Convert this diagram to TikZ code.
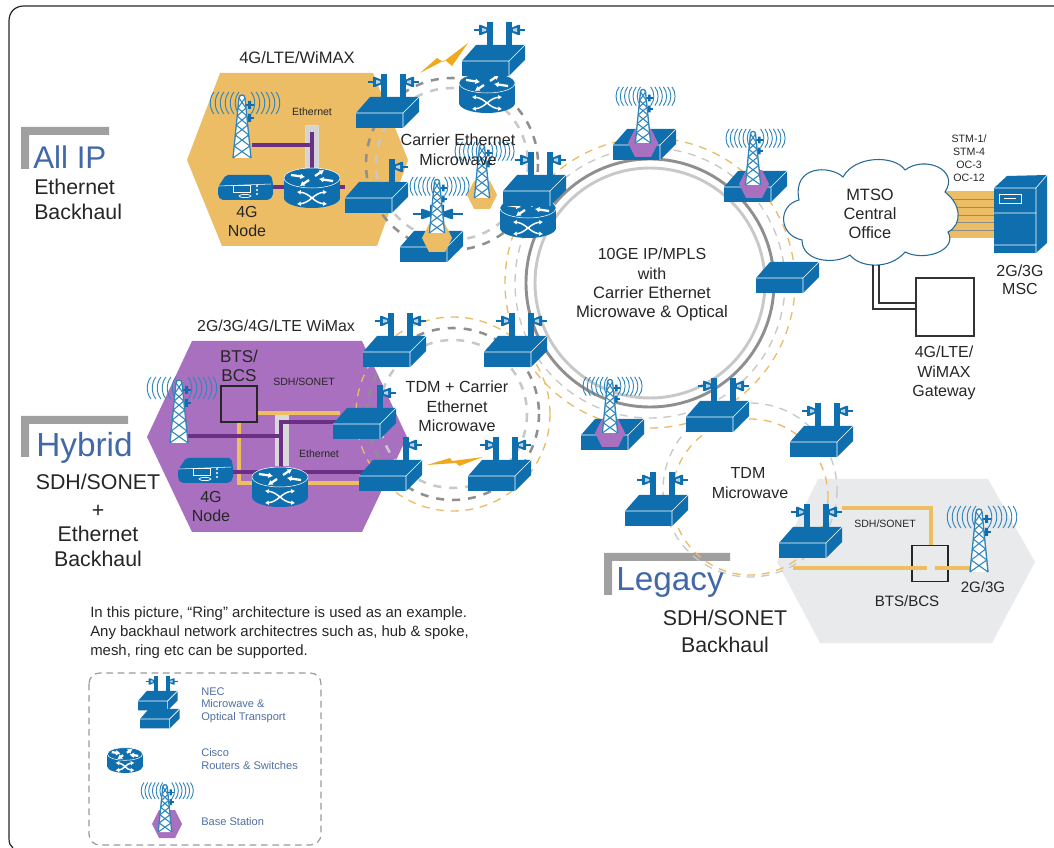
\documentclass[tikz,border=0pt]{standalone}
\usepackage{fontspec}
\setmainfont{Liberation Sans}
\usetikzlibrary{arrows.meta}
\definecolor{cblue}{HTML}{0F6FAE}
\definecolor{wblue}{HTML}{2F86BC}
\definecolor{hexor}{HTML}{EDBD66}
\definecolor{hexpu}{HTML}{A970BF}
\definecolor{hexgr}{HTML}{E9EAEC}
\definecolor{lnpu}{HTML}{6B2F85}
\definecolor{lnor}{HTML}{F0BE62}
\definecolor{dashor}{HTML}{E9BC68}
\definecolor{ringd}{HTML}{8F8F8F}
\definecolor{ringl}{HTML}{C8C8C8}
\definecolor{titleb}{HTML}{4168A8}
\definecolor{legb}{HTML}{4E6FA3}
\definecolor{brk}{HTML}{A0A0A0}
\definecolor{bolt}{HTML}{F0A91E}
\newcommand{\fsz}[1]{\fontsize{#1}{#1}\selectfont}
\newcommand{\drawbox}{%
  \fill[cblue] (0,0)--(14,-16)--(63,-16)--(63,-1)--(47,15)--(0,15)--cycle;
  \draw[white,line width=.45pt] (0,0)--(47,0)--(63,-16) (47,0)--(47,15);
}
\newcommand{\drawantl}{%
  \fill[cblue] (25,-39) rectangle (31,-8);
  \draw[cblue,line width=1.4pt] (12,-31)--(25,-31);
  \fill[cblue] (17,-36)--(19,-36)--(25,-33.5)--(25,-28.5)--(19,-26)--(17,-26)--cycle;
  \fill[white!70!cblue] (20,-33)--(24,-32)--(24,-30)--(20,-29)--cycle;
}
\newcommand{\drawantr}{%
  \fill[cblue] (44,-39) rectangle (50,-8);
  \draw[cblue,line width=1.4pt] (50,-31)--(63,-31);
  \fill[cblue] (58,-36)--(56,-36)--(50,-33.5)--(50,-28.5)--(56,-26)--(58,-26)--cycle;
  \fill[white!70!cblue] (55,-33)--(51,-32)--(51,-30)--(55,-29)--cycle;
}
\tikzset{
 lb/.style={inner sep=0pt,anchor=base,yshift={-.36*#1pt},text=black!85,font=\fsz{#1}},
 ll/.style={inner sep=0pt,anchor=base west,yshift={-.36*#1pt},text=black!85,font=\fsz{#1}},
 leg/.style={inner sep=0pt,anchor=base west,yshift=-3pt,text=legb,font=\fsz{8.3}},
 ttl/.style={inner sep=0pt,anchor=base west,yshift={-.36*#1pt},text=titleb,font=\fsz{#1}},
 lnp/.style={draw=lnpu,line width=2.6pt},
 lno/.style={draw=lnor,line width=2.6pt},
 mwbox/.pic={\drawbox},
 mwtwo/.pic={\drawantl\drawantr\drawbox},
 mwone/.pic={\drawantr\drawbox},
 rtr/.pic={
  \fill[cblue] (0,20) ellipse[x radius=28,y radius=10];
  \fill[cblue] (-28,0) rectangle (28,20);
  \fill[cblue] (0,0) ellipse[x radius=28,y radius=10];
  \draw[white,line width=.4pt] (0,0) ellipse[x radius=28,y radius=10];
  \draw[white,line width=1.7pt,-{Latex[length=3.4pt,width=4.4pt]}] (-21,-3)--(-7,-1);
  \draw[white,line width=1.7pt,-{Latex[length=3.4pt,width=4.4pt]}] (21,3)--(7,1);
  \draw[white,line width=1.7pt,-{Latex[length=3.4pt,width=4.4pt]}] (3,-2)--(12,-8);
  \draw[white,line width=1.7pt,-{Latex[length=3.4pt,width=4.4pt]}] (-3,2)--(-12,8);
  \draw[white,line width=1.1pt,{Latex[length=2.8pt,width=3.6pt]}-{Latex[length=2.8pt,width=3.6pt]}] (-15,14) .. controls (-2,15) and (2,25) .. (15,26);
  \draw[white,line width=1.1pt,{Latex[length=2.8pt,width=3.6pt]}-{Latex[length=2.8pt,width=3.6pt]}] (-15,26) .. controls (-2,25) and (2,15) .. (15,14);
 },
 twr/.pic={
  \foreach \r in {7,12,17,22,27,32} {
   \draw[wblue,line width=.7pt] (-\r+4,-66) .. controls (-\r-1,-60) and (-\r-1,-50) .. (-\r+4,-44);
  }
  \foreach \r in {13,18,23,28,33,38} {
   \draw[wblue,line width=.7pt] (\r-4,-66) .. controls (\r+1,-60) and (\r+1,-50) .. (\r-4,-44);
  }
  \draw[cblue,line width=1.1pt] (3,-53)--(12,-53) (3,-40)--(12,-40);
  \fill[cblue] (6,-57) rectangle (9,-49) (6,-44) rectangle (9,-36);
  \fill[white] (-9,0)--(-3,-60)--(0,-63)--(3,-60)--(9,0)--cycle;
  \foreach \a/\wa/\b/\wb in {0/9/-12/7.8,-12/7.8/-23/6.7,-23/6.7/-33/5.7,-33/5.7/-42/4.8,-42/4.8/-50/4,-50/4/-60/3} {
   \draw[wblue,line width=.8pt] (-\wa,\a)--(\wb,\b) (\wa,\a)--(-\wb,\b);
  }
  \draw[wblue,line width=1pt] (-9,0)--(-3,-60) .. controls (-3,-64) and (3,-64) .. (3,-60)--(9,0);
 },
 hexs/.pic={
  \fill[pic actions] (-15,0)--(-8,-14)--(8,-14)--(15,0)--(8,14)--(-8,14)--cycle;
 },
 node4g/.pic={
  \fill[cblue,rounded corners=1.5pt] (0,12)--(8,0)--(53,0)--(55,8)--(55,21)--(51,25)--(3,25)--(0,21)--cycle;
  \draw[white,line width=.4pt] (1,11)--(53,9);
  \draw[white,line width=.5pt] (15,10) rectangle (32,17);
  \draw[white,line width=.5pt] (27,21) ellipse[x radius=6,y radius=1.6];
  \fill[white] (39,11) circle[radius=1.2] (39,15) circle[radius=1.2] (39,19) circle[radius=1.2];
 }
}
\begin{document}
\begin{tikzpicture}[x=.75pt,y=-.75pt,line cap=butt]
\useasboundingbox (0,0) rectangle (1054,848);
% frame
\coordinate (fa) at (1054,6); \coordinate (fb) at (9,6); \coordinate (fc) at (9,838); \coordinate (fd) at (13,848);
\draw[black!85,line width=.9pt] (fa)--(24,6) .. controls (15,6) and (9,12) .. (9,21)--(fc) .. controls (9,843) and (10,846) .. (fd);
% hexagons
\fill[hexor] (187,160)--(220,73)--(373,73)--(408,160)--(377,246)--(222,246)--cycle;
\fill[hexpu] (147,437)--(192,341)--(362,341)--(407,437)--(362,532)--(192,532)--cycle;
\fill[hexgr] (777,562)--(818,479)--(988,479)--(1035,562)--(992,643)--(820,643)--cycle;
% brackets
\fill[brk] (21,127)--(109,127)--(109,135)--(29,135)--(29,169)--(21,169)--cycle;
\fill[brk] (21,416)--(128,416)--(128,424)--(29,424)--(29,457)--(21,457)--cycle;
\fill[brk] (604,553)--(730,553)--(730,561)--(612,561)--(612,595)--(604,595)--cycle;
% ring centres
\coordinate (cmain) at (650,283);
\coordinate (ccar) at (452,164);
\coordinate (chyb) at (453,414);
\coordinate (ctdmg) at (750,490);
\coordinate (ctdmo) at (750,497);
% dashed rings
\draw[dashor,line width=1pt,dash pattern=on 6pt off 5pt] (cmain) circle[radius=145];
\draw[ringl,line width=1pt,dash pattern=on 6pt off 5pt] (cmain) circle[radius=135];
\draw[ringd,line width=1.9pt,dash pattern=on 6pt off 6pt] (ccar) circle[radius=86];
\draw[ringl,line width=1.9pt,dash pattern=on 6pt off 6pt] (ccar) circle[radius=76];
\draw[dashor,line width=1pt,dash pattern=on 6pt off 5pt] (chyb) circle[radius=97];
\draw[ringd,line width=1.9pt,dash pattern=on 6pt off 6pt] (chyb) circle[radius=86];
\draw[ringl,line width=1.9pt,dash pattern=on 6pt off 6pt] (chyb) circle[radius=74];
\draw[ringl,line width=1pt,dash pattern=on 6pt off 5pt] (ctdmg) circle[radius=87];
\draw[dashor,line width=1pt,dash pattern=on 6pt off 5pt] (ctdmo) circle[radius=78];
% main rings
\draw[ringd,line width=2.2pt] (cmain) circle[radius=124];
\draw[ringl,line width=2.2pt] (cmain) circle[radius=115];
% stripes + MSC
\fill[hexor] (940,191) rectangle (996,238);
\foreach \y in {199,207,215,222,230} \draw[black!45,line width=.6pt] (940,\y)--(996,\y);
% cloud
\draw[wblue!80!black,line width=.8pt,fill=white] (799,200)
 .. controls (792,165) and (830,165) .. (843,177)
 .. controls (855,155) and (895,155) .. (905,170)
 .. controls (925,155) and (960,170) .. (945,192)
 .. controls (962,205) and (962,225) .. (948,232)
 .. controls (958,250) and (925,262) .. (905,252)
 .. controls (890,270) and (860,268) .. (850,255)
 .. controls (835,265) and (802,262) .. (802,240)
 .. controls (778,235) and (778,205) .. (799,200) -- cycle;
% server
\fill[cblue] (994,188)--(1007,176)--(1047,175)--(1047,243)--(1036,253)--(994,253)--cycle;
\draw[white,line width=.45pt] (994,188)--(1036,188)--(1047,175) (1036,188)--(1036,253) (994,213)--(1036,213) (994,245)--(1036,245);
\draw[white,line width=.6pt] (999,194) rectangle (1021,203);
\draw[white,line width=.8pt] (1004,198.5)--(1016,198.5);
% gateway
\node[draw=black!80,line width=.9pt,minimum width=43.5pt,minimum height=43.5pt,inner sep=0pt] (gw) at (945,307) {};
\coordinate (cla) at (873,265); \coordinate (clb) at (879,265);
\coordinate (gwa) at (916,309); \coordinate (gwb) at (916,303);
\draw[black!80,line width=.9pt] (cla)--(cla|-gwa)--(gwa);
\draw[black!80,line width=.9pt] (clb)--(clb|-gwb)--(gwb);
% hex lines: orange block
\node[fill=black!17,draw=white!85!black,line width=.5pt,minimum width=10pt,minimum height=32pt,inner sep=0pt] (ethA) at (312,146.5) {};
\coordinate (twA) at (252,145); \coordinate (rtA) at (312,178); \coordinate (ethAt) at (312,132);
\coordinate (n4A) at (268,187); \coordinate (rtAr) at (345,187); \coordinate (rtAl) at (290,187);
\draw[lnp] (twA)--(ethAt|-twA);
\draw[lnp] (ethAt)--(rtA);
\draw[lnp] (n4A)--(rtAl);
\draw[lnp] (rtAl)--(rtAr);
% hex lines: purple block
\node[fill=black!15,draw=white!85!black,line width=.5pt,minimum width=10pt,minimum height=38pt,inner sep=0pt] (ethB) at (281.5,440) {};
\node[draw=black!85,line width=.9pt,minimum width=27pt,minimum height=27pt,inner sep=0pt] (btsB) at (239,404) {};
\coordinate (boxL) at (340,413); \coordinate (boxLp) at (340,422);
\coordinate (twB) at (188,436); \coordinate (ethBb) at (281,470);
\coordinate (rtBo) at (340,483); \coordinate (rtBp) at (365,472); \coordinate (n4B) at (228,472);
\draw[lno] (btsB.east|-boxL)--(boxL);
\draw[lno] (btsB.south)--(btsB.south|-rtBo)--(rtBo);
\draw[lno] (rtBo)--(365,483);
\draw[lnp] (twB)--(ethBb|-twB);
\draw[lnp] (ethBb)--(ethBb|-boxLp)--(boxLp);
\draw[lnp] (n4B)--(rtBp);
% hex lines: grey block
\node[draw=black!85,line width=.9pt,minimum width=27pt,minimum height=27pt,inner sep=0pt] (btsC) at (930,563.5) {};
\coordinate (boxS) at (842,508); \coordinate (boxSl) at (793,568); \coordinate (twC) at (970,568);
\coordinate (gapa) at (927,568); \coordinate (gapb) at (935,568);
\draw[lno] (boxS)--(931,508)--(931,545);
\draw[lno] (boxSl)--(gapa);
\draw[lno] (gapb)--(twC);
% bolts
\fill[bolt] (420,73)--(437,58)--(443,62)--(468,43)--(452,66)--(445,60)--cycle;
\fill[bolt] (427,465)--(450,458)--(452,461)--(483,457)--(459,466)--(456,463)--cycle;
% towers on hexagons
\pic at (242,158) {twr};
\pic at (179,443) {twr};
\pic at (979,572) {twr};
% routers and 4G nodes
\pic at (312,178) {rtr};
\pic at (280,477) {rtr};
\pic at (218,175) {node4g};
\pic at (178,458) {node4g};
% microwave units: carrier ring
\pic at (356,113) {mwtwo};
\pic at (487,83) {rtr};
\pic at (462,61) {mwtwo};
\pic at (345,198) {mwone};
\pic[fill=hexor] at (482,195) {hexs};
\pic[scale=.85] at (482,198) {twr};
\pic at (400,247) {mwbox};
\fill[cblue] (430,205) rectangle (433,232) (441,205) rectangle (444,232);
\draw[cblue,line width=1.4pt] (413,214)--(430,214) (444,214)--(463,214);
\fill[cblue] (421,209)--(423,209)--(430,211.5)--(430,216.5)--(423,219)--(421,219)--cycle;
\fill[cblue] (453,209)--(451,209)--(444,211.5)--(444,216.5)--(451,219)--(453,219)--cycle;
\pic[fill=hexor] at (437,238) {hexs};
\pic[scale=.85] at (437,233) {twr};
\pic at (528,208) {rtr};
\pic at (503,191) {mwtwo};
% main ring
\pic at (613,145) {mwbox};
\pic[fill=hexpu] at (643,143) {hexs};
\pic[scale=.85] at (643,143) {twr};
\pic at (724,187) {mwbox};
\pic[fill=hexpu] at (754,184) {hexs};
\pic[scale=.85] at (753,185) {twr};
\pic at (756,278) {mwbox};
\pic at (581,435) {mwbox};
\pic[fill=hexpu] at (610,433) {hexs};
\pic[scale=.85] at (610,433) {twr};
% hybrid ring
\pic at (363,352) {mwtwo};
\pic at (484,352) {mwtwo};
\pic at (333,424) {mwone};
\pic at (359,476) {mwone};
\pic at (468,476) {mwtwo};
% TDM ring
\pic at (686,417) {mwtwo};
\pic at (790,442) {mwtwo};
\pic at (625,511) {mwtwo};
\pic at (779,543) {mwtwo};
% legend
\draw[black!40,line width=.9pt,dash pattern=on 5pt off 3.5pt,rounded corners=8pt] (89,673) rectangle (321,845);
\pic[scale=.63] at (138,701) {mwtwo};
\pic[scale=.63] at (140,719) {mwbox};
\pic[scale=.63] at (125,754) {rtr};
\pic[fill=hexpu] at (167,824) {hexs};
\pic[scale=.75] at (165,832) {twr};
% texts
\node[lb=12.4] (t1) at (297,58) {4G/LTE/WiMAX};
\node[lb=7.9] (t2) at (312,112) {Ethernet};
\node[lb=12] (t3) at (247,212) {4G};
\node[lb=12] (t4) at (247,231) {Node};
\node[lb=12.1] (t5) at (458,140) {Carrier Ethernet};
\node[lb=12.1] (t6) at (458,160) {Microwave};
\node[ttl=23.5] (t7) at (33,157) {All IP};
\node[ll=16] (t8) at (34,187) {Ethernet};
\node[ll=16] (t9) at (34,212) {Backhaul};
\node[ttl=25] (t10) at (36,445) {Hybrid};
\node[lb=16] (t11) at (98,482) {SDH/SONET};
\node[lb=16] (t12) at (98,510) {+};
\node[lb=16] (t13) at (98,534) {Ethernet};
\node[lb=16] (t14) at (98,559) {Backhaul};
\node[ttl=25] (t15) at (616,578) {Legacy};
\node[lb=16] (t16) at (725,618) {SDH/SONET};
\node[lb=16] (t17) at (725,645) {Backhaul};
\node[lb=11.9] (t18) at (276,326) {2G/3G/4G/LTE WiMax};
\node[lb=12.8] (t19) at (239,356) {BTS/};
\node[lb=12.8] (t20) at (239,375) {BCS};
\node[lb=7.9] (t21) at (304,382) {SDH/SONET};
\node[lb=7.9] (t22) at (319,454) {Ethernet};
\node[lb=12] (t23) at (211,497) {4G};
\node[lb=12] (t24) at (211,516) {Node};
\node[lb=12.1] (t25) at (457,387) {TDM + Carrier};
\node[lb=12.1] (t26) at (457,407) {Ethernet};
\node[lb=12.1] (t27) at (457,426) {Microwave};
\node[lb=12] (t28) at (652,254) {10GE IP/MPLS};
\node[lb=12] (t29) at (652,274) {with};
\node[lb=12.4] (t30) at (652,293) {Carrier Ethernet};
\node[lb=12.5] (t31) at (652,312) {Microwave \& Optical};
\node[lb=12.3] (t32) at (870,195) {MTSO};
\node[lb=12.3] (t33) at (870,214) {Central};
\node[lb=12.3] (t34) at (870,233) {Office};
\node[lb=8] (t35) at (969,139) {STM-1/};
\node[lb=8] (t36) at (969,152) {STM-4};
\node[lb=8] (t37) at (969,165) {OC-3};
\node[lb=8] (t38) at (969,178) {OC-12};
\node[lb=12] (t39) at (1020,271) {2G/3G};
\node[lb=12] (t40) at (1020,289) {MSC};
\node[lb=12] (t41) at (944,352) {4G/LTE/};
\node[lb=12] (t42) at (944,372) {WiMAX};
\node[lb=12] (t43) at (944,391) {Gateway};
\node[lb=12] (t44) at (748,473) {TDM};
\node[lb=12] (t45) at (750,493) {Microwave};
\node[lb=7.9] (t46) at (885,524) {SDH/SONET};
\node[lb=11.3] (t47) at (907,601) {BTS/BCS};
\node[lb=11.3] (t48) at (983,587) {2G/3G};
\node[ll=11.2] (t49) at (90,612) {In this picture, “Ring” architecture is used as an example.};
\node[ll=11.2] (t50) at (90,631) {Any backhaul network architectres such as, hub \& spoke,};
\node[ll=11.2] (t51) at (90,650) {mesh, ring etc can be supported.};
\node[leg] (t52) at (201,691) {NEC};
\node[leg] (t53) at (201,703) {Microwave \&};
\node[leg] (t54) at (201,716) {Optical Transport};
\node[leg] (t55) at (201,752) {Cisco};
\node[leg] (t56) at (201,765) {Routers \& Switches};
\node[leg] (t57) at (201,821) {Base Station};
\end{tikzpicture}
\end{document}
